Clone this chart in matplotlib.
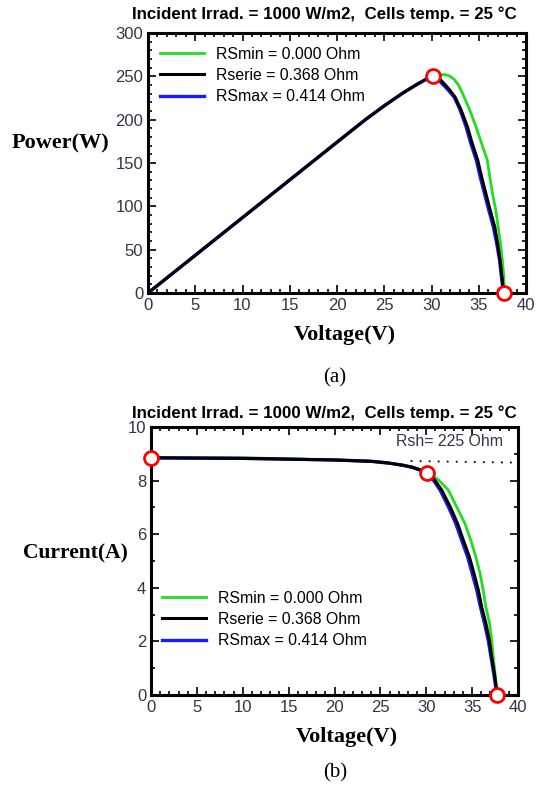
import matplotlib
matplotlib.use('Agg')
import matplotlib.pyplot as plt
from matplotlib.ticker import MultipleLocator

# common rising part of P-V curve (all three overlap)
v_rise = [0, 5, 10, 15, 20, 23, 25, 27, 28.5, 29.5, 30.2]
p_rise = [0, 43.5, 87, 130.5, 174, 200, 216, 231, 241, 247, 250.5]

# P-V tails after the MPP
v_min_tail = [30.8, 31.4, 31.9, 32.4, 32.85, 33.28, 34.05, 34.7, 35.3, 35.9, 36.17, 36.45, 36.8, 37.05, 37.3, 37.5, 37.65, 37.7]
p_min_tail = [251.8, 252, 250.5, 246.5, 240, 230.4, 211, 192, 172.7, 153.5, 134, 115, 95.8, 76.5, 57, 38, 18.8, 0]
v_ser_tail = [30.6, 31.0, 31.8, 32.5, 33.1, 33.8, 34.3, 34.9, 35.3, 35.75, 36.2, 36.7, 37.0, 37.25, 37.45, 37.65]
p_ser_tail = [249, 245.5, 236, 226, 212, 192, 173, 153, 134, 115, 96, 76, 57, 38, 19, 0]
v_max_tail = [30.5, 30.9, 31.7, 32.4, 33.0, 33.65, 34.15, 34.75, 35.15, 35.6, 36.05, 36.55, 36.9, 37.2, 37.4, 37.6]
p_max_tail = [248.5, 244, 235, 226, 212, 192, 173, 153, 134, 115, 96, 76, 57, 38, 19, 0]

# I-V curves
v_iv_ser = [0, 10, 15, 20, 24, 26, 27.5, 28.5, 29.5, 30.34, 31.0, 31.68, 32.6, 33.4, 34.04, 34.7, 35.2, 35.67, 36.04, 36.5, 36.87, 37.13, 37.42, 37.68, 37.7]
i_iv_ser = [8.85, 8.83, 8.8, 8.77, 8.72, 8.65, 8.57, 8.5, 8.38, 8.27, 7.98, 7.65, 7.03, 6.41, 5.78, 5.16, 4.54, 3.92, 3.29, 2.67, 2.05, 1.43, 0.81, 0.19, 0]
v_iv_min = [0, 11.5, 20, 25, 27, 28.5, 29.5, 30.3, 31.4, 32.4, 33.3, 34.2, 34.85, 35.4, 35.86, 36.2, 36.5, 36.9, 37.13, 37.3, 37.5, 37.68, 37.7]
i_iv_min = [8.85, 8.84, 8.77, 8.7, 8.6, 8.5, 8.4, 8.3, 8.0, 7.65, 7.03, 6.41, 5.78, 5.16, 4.54, 3.92, 3.29, 2.67, 2.05, 1.43, 0.81, 0.19, 0]
v_iv_max = [0, 10, 15, 20, 24, 26, 27.5, 28.5, 29.5, 30.2, 30.85, 31.5, 32.4, 33.2, 33.85, 34.5, 35.0, 35.5, 35.9, 36.35, 36.75, 37.05, 37.35, 37.62, 37.65]
i_iv_max = [8.85, 8.83, 8.8, 8.77, 8.72, 8.65, 8.57, 8.49, 8.37, 8.26, 7.98, 7.65, 7.03, 6.41, 5.78, 5.16, 4.54, 3.92, 3.29, 2.67, 2.05, 1.43, 0.81, 0.19, 0]

# shunt resistance line
v_rsh = [28.3, 40]
i_rsh = [8.73, 8.67]

# marked points
v_mark_pv = [30.2, 37.65]
p_mark_pv = [250.5, 0]
v_mark_iv = [0, 30.1, 37.7]
i_mark_iv = [8.85, 8.3, 0]

labels = ['RSmin = 0.000 Ohm', 'Rserie = 0.368 Ohm', 'RSmax = 0.414 Ohm']
title = 'Incident Irrad. = 1000 W/m2,  Cells temp. = 25 \u00b0C'

W, H = 536, 793
fig = plt.figure(figsize=(W / 100, H / 100), dpi=100)

sans = 'Liberation Sans'
serif = 'Liberation Serif'
tick_col = '#33334a'


def px(x, y):
    return x / W, 1 - y / H


def style_axes(ax):
    for s in ax.spines.values():
        s.set_linewidth(2.2)
    ax.tick_params(which='both', direction='in', top=True, right=True,
                   colors='black', labelcolor=tick_col, width=1.2)
    ax.tick_params(which='major', length=6)
    ax.tick_params(which='minor', length=3)
    for lab in ax.get_xticklabels() + ax.get_yticklabels():
        lab.set_fontfamily(sans)
        lab.set_fontsize(12)


# ---- (a) P-V ----
ax1 = fig.add_axes([148 / W, 1 - 293 / H, 378 / W, 260 / H])
g, = ax1.plot(v_rise + v_min_tail, p_rise + p_min_tail, color='#22dd22', lw=2)
b, = ax1.plot(v_rise + v_max_tail, p_rise + p_max_tail, color='#1a1aff', lw=2.4)
k, = ax1.plot(v_rise + v_ser_tail, p_rise + p_ser_tail, color='black', lw=2.2)
ax1.plot(v_mark_pv, p_mark_pv, 'o', ms=10, mfc='white', mec='red', mew=2, clip_on=False, zorder=5)
ax1.set_xlim(0, 40)
ax1.set_ylim(0, 300)
ax1.xaxis.set_major_locator(MultipleLocator(5))
ax1.xaxis.set_minor_locator(MultipleLocator(1))
ax1.yaxis.set_major_locator(MultipleLocator(50))
ax1.yaxis.set_minor_locator(MultipleLocator(10))
style_axes(ax1)
ax1.legend([g, k, b], labels, loc='upper left', bbox_to_anchor=(0.032, 0.947),
           frameon=False, borderpad=0, borderaxespad=0, handlelength=2.8,
           handletextpad=0.72, labelspacing=0.39, prop={'family': sans, 'size': 11.4})

fig.text(*px(324, 14), title, ha='center', va='center', family=sans, weight='bold', fontsize=12.2)
fig.text(*px(12, 143), 'Power(W)', ha='left', va='center', family=serif, weight='bold', fontsize=16)
fig.text(*px(345, 335), 'Voltage(V)', ha='center', va='center', family=serif, weight='bold', fontsize=16)
fig.text(*px(335, 378), '(a)', ha='center', va='center', family=serif, fontsize=15)

# ---- (b) I-V ----
ax2 = fig.add_axes([151 / W, 1 - 695 / H, 367 / W, 268 / H])
g2, = ax2.plot(v_iv_min, i_iv_min, color='#22dd22', lw=2)
b2, = ax2.plot(v_iv_max, i_iv_max, color='#1a1aff', lw=2.4)
k2, = ax2.plot(v_iv_ser, i_iv_ser, color='black', lw=2.2)
ax2.plot(v_rsh, i_rsh, color='black', lw=1.3, ls=(0, (1, 4)))
ax2.plot(v_mark_iv, i_mark_iv, 'o', ms=10, mfc='white', mec='red', mew=2, clip_on=False, zorder=5)
ax2.set_xlim(0, 40)
ax2.set_ylim(0, 10)
ax2.xaxis.set_major_locator(MultipleLocator(5))
ax2.xaxis.set_minor_locator(MultipleLocator(1))
ax2.yaxis.set_major_locator(MultipleLocator(2))
ax2.yaxis.set_minor_locator(MultipleLocator(1))
style_axes(ax2)
ax2.text(38.4, 9.45, 'Rsh= 225 Ohm', ha='right', va='center', family=sans, fontsize=11.4, color=tick_col)
ax2.legend([g2, k2, b2], labels, loc='upper left', bbox_to_anchor=(0.03, 0.389),
           frameon=False, borderpad=0, borderaxespad=0, handlelength=2.8,
           handletextpad=0.72, labelspacing=0.39, prop={'family': sans, 'size': 11.4})

fig.text(*px(324, 413), title, ha='center', va='center', family=sans, weight='bold', fontsize=12.2)
fig.text(*px(23, 553), 'Current(A)', ha='left', va='center', family=serif, weight='bold', fontsize=15.5)
fig.text(*px(347, 737), 'Voltage(V)', ha='center', va='center', family=serif, weight='bold', fontsize=16)
fig.text(*px(335, 773), '(b)', ha='center', va='center', family=serif, fontsize=15)

fig.savefig('out.png', dpi=100)
